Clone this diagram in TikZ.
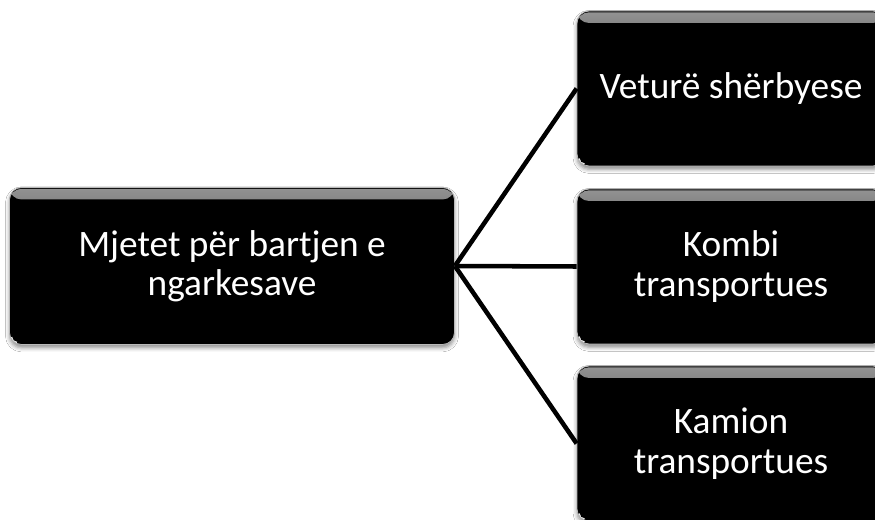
\documentclass[tikz,border=0pt]{standalone}
\usepackage{fontspec}
\setmainfont{Carlito}
\usetikzlibrary{shadows.blur}
\begin{document}
\begin{tikzpicture}[x=0.75pt,y=-0.75pt,
  glossbox/.style={
    rounded corners=9pt, fill=black, draw=gray!55, line width=0.6pt,
    text=white, align=center, inner sep=0pt,
    font=\fontsize{28}{29.5}\selectfont,
    blur shadow={shadow xshift=0pt, shadow yshift=-2.5pt, shadow blur radius=3pt, shadow opacity=45},
    path picture={
      \shade[top color=gray!85, bottom color=black]
        ([yshift=-1pt]path picture bounding box.north west) rectangle
        ([yshift=-9pt]path picture bounding box.north east);
      \fill[white!90!gray]
        ([xshift=3pt,yshift=3pt]path picture bounding box.south west) circle[radius=3.2pt];
      \fill[black]
        ([xshift=6pt,yshift=6pt]path picture bounding box.south west) circle[radius=4pt];
    }},
  mainbox/.style={glossbox, minimum width=333.75pt, minimum height=117.75pt},
  sidebox/.style={glossbox, minimum width=231pt, minimum height=116.25pt},
  link/.style={line width=3.4pt, black}]
\useasboundingbox (0,0) rectangle (875,520);
\clip (0,0) rectangle (875,520);
\fill[white] (0,0) rectangle (875,520);

\node[mainbox] (m) at (232,266) {Mjetet për bartjen e\\ngarkesave};
\node[sidebox] (a) at (731,88.5) {Veturë shërbyese};
\node[sidebox] (b) at (731,266.5) {Kombi\\transportues};
\node[sidebox] (c) at (731,443.5) {Kamion\\transportues};

\draw[link] (m.east) -- (a.west);
\draw[link] (m.east) -- (b.west);
\draw[link] (m.east) -- (c.west);
\end{tikzpicture}
\end{document}
